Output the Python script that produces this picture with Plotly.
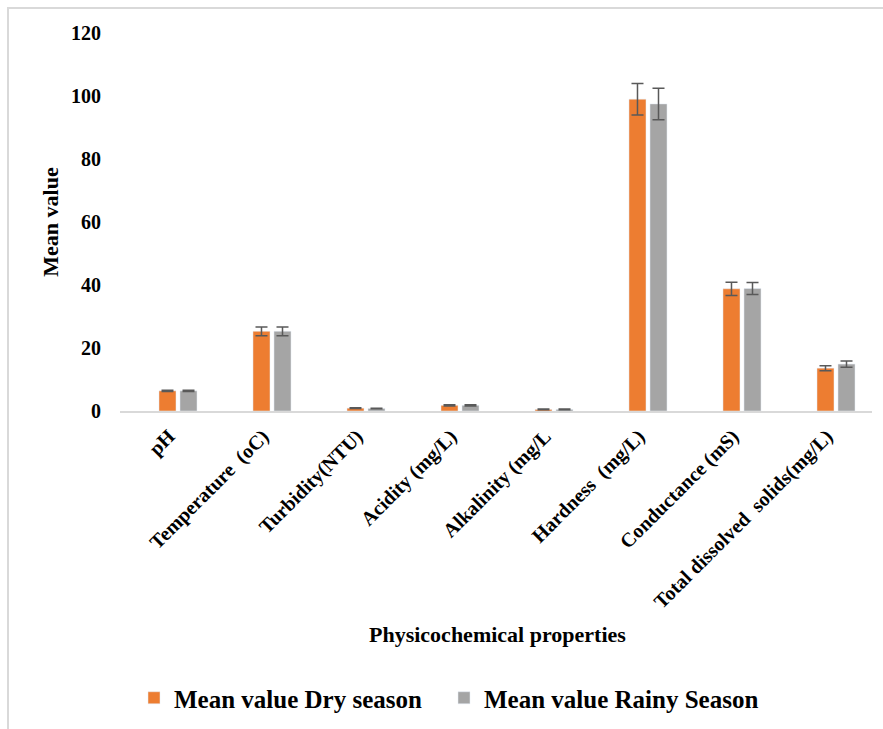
import plotly.graph_objects as go

categories = ["pH", "Temperature  (oC)", "Turbidity(NTU)", "Acidity (mg/L)",
              "Alkalinity (mg/L", "Hardness  (mg/L)", "Conductance (mS)",
              "Total dissolved  solids(mg/L)"]
dry_values = [6.4, 25.3, 0.9, 1.8, 0.5, 99.0, 38.8, 13.6]
dry_errors = [0.2, 1.4, 0.1, 0.2, 0.1, 5.0, 2.1, 0.8]
rainy_values = [6.4, 25.3, 0.8, 1.8, 0.5, 97.5, 38.9, 14.9]
rainy_errors = [0.2, 1.4, 0.1, 0.2, 0.1, 5.0, 1.9, 1.0]
y_ticks = [0, 20, 40, 60, 80, 100, 120]

FONT = "Liberation Serif"
err_color = "#595959"

fig = go.Figure()
fig.add_trace(go.Bar(
    x=categories, y=dry_values, name="Mean value Dry season",
    marker=dict(color="#ED7D31"), legend="legend",
    error_y=dict(type="data", array=dry_errors, visible=True,
                 color=err_color, thickness=1.5, width=6),
))
fig.add_trace(go.Bar(
    x=categories, y=rainy_values, name="Mean value Rainy Season",
    marker=dict(color="#A5A5A5"), legend="legend2",
    error_y=dict(type="data", array=rainy_errors, visible=True,
                 color=err_color, thickness=1.5, width=6),
))

W, H = 883, 729
ml, mr, mt, mb = 120, 11, 33, 318
PW, PH = W - ml - mr, H - mt - mb

legend_font = dict(family=FONT, size=25, color="#000000", weight="bold")
fig.update_layout(
    width=W, height=H,
    margin=dict(l=ml, r=mr, t=mt, b=mb, autoexpand=False),
    paper_bgcolor="white", plot_bgcolor="white",
    barmode="group", bargap=0.553, bargroupgap=0.19,
    font=dict(family=FONT, color="#000000"),
    showlegend=True,
    legend=dict(
        orientation="h", x=(134 - ml) / PW, xanchor="left",
        y=(H - mb - 698) / PH, yanchor="middle",
        font=legend_font, itemwidth=30,
    ),
    legend2=dict(
        orientation="h", x=(444 - ml) / PW, xanchor="left",
        y=(H - mb - 698) / PH, yanchor="middle",
        font=legend_font, itemwidth=30,
    ),
)
fig.update_xaxes(
    type="category", range=[-0.617, 7.383],
    showline=True, linecolor="#D9D9D9", linewidth=1.5,
    showgrid=False, ticks="", tickangle=-45,
    ticklabelshift=-9, ticklabelstandoff=4,
    tickfont=dict(family=FONT, size=20, color="#000000", weight="bold"),
    title=dict(text=""),
)
fig.update_yaxes(
    range=[0, 120], tickvals=y_ticks, showgrid=False, showline=False,
    zeroline=False, ticks="", ticklabelstandoff=18,
    tickfont=dict(family=FONT, size=20, color="#000000", weight="bold"),
    title=dict(text="Mean value", standoff=6,
               font=dict(family=FONT, size=22, color="#000000", weight="bold")),
)
# x-axis title
fig.add_annotation(text="Physicochemical properties", xref="paper", yref="paper",
                   x=(497 - ml) / PW, y=(H - mb - 634) / PH,
                   xanchor="center", yanchor="middle", showarrow=False,
                   font=dict(family=FONT, size=22, color="#000000", weight="bold"))
# chart frame (top and left edges visible)
fig.add_shape(type="rect", xref="paper", yref="paper",
              x0=(8 - ml) / PW, x1=(895 - ml) / PW,
              y0=(H - mb - 740) / PH, y1=(H - mb - 8) / PH,
              line=dict(color="#D9D9D9", width=2), layer="below")

fig.write_html("out.html")
